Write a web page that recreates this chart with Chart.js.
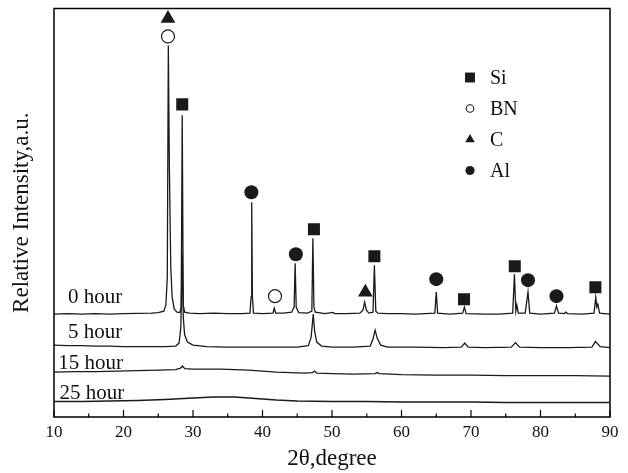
<!DOCTYPE html>
<html>
<head>
<meta charset="utf-8">
<script src="https://cdn.jsdelivr.net/npm/chart.js@4.4.1/dist/chart.umd.min.js"></script>
<style>
  html, body { margin: 0; padding: 0; background: #fff; }
</style>
</head>
<body>
<canvas id="xrd" width="628" height="473"></canvas>
<script>
// XRD patterns, [2theta, intensity + offset] (a.u.)
const hour0 = [
  [10, 103], [12, 103.5], [14, 103], [16, 103.5], [18, 103], [20, 103.5], [22, 103.8], [24, 104],
  [25, 104.5], [25.8, 106], [26.1, 112], [26.3, 140], [26.45, 372], [26.6, 250], [26.8, 150],
  [27.0, 120], [27.3, 108], [27.7, 105], [28.1, 104.5], [28.3, 110], [28.45, 302], [28.6, 112],
  [28.8, 105], [29.5, 104], [31, 103.5], [33, 104], [35, 103.5], [37, 103.5], [38.2, 104],
  [38.35, 120], [38.45, 215], [38.55, 120], [38.7, 104], [40, 103.5], [41.5, 104], [41.7, 109],
  [41.9, 104], [43, 104], [44.2, 105], [44.55, 110], [44.7, 154], [44.85, 110], [45.2, 104.5],
  [46.5, 104], [47.1, 106], [47.25, 179], [47.4, 110], [47.6, 105], [49, 103.5], [50.1, 104.8],
  [50.4, 103.5], [52, 103.5], [54, 104], [54.45, 107], [54.7, 115], [54.95, 107], [55.3, 104],
  [55.9, 105], [56.1, 152], [56.3, 106], [56.6, 104], [58, 103.5], [60, 103.5], [62, 103],
  [64.8, 104], [65.0, 125], [65.2, 104], [67, 103], [68.8, 104], [69.05, 110], [69.3, 103.5],
  [72, 103], [74, 103], [76.0, 104], [76.25, 143], [76.45, 106], [76.6, 112], [76.8, 104],
  [77.8, 104], [78.2, 125], [78.45, 104], [80, 103], [82.0, 104], [82.3, 111], [82.6, 104],
  [83.4, 103.5], [83.6, 105], [83.9, 103.5], [86, 103], [87.7, 104], [87.95, 120], [88.1, 110],
  [88.25, 113], [88.5, 104], [90, 103]
];
const hour5 = [
  [10, 72], [12, 71.5], [14, 71.5], [16, 71], [18, 71], [20, 70.5], [22, 70.5], [24, 70.5],
  [26, 70.5], [27.5, 71], [28.0, 74], [28.25, 90], [28.45, 164], [28.6, 100], [28.8, 82],
  [29.2, 75], [30, 72], [32, 70.5], [35, 70], [38, 70], [40, 70], [43, 70], [45, 70],
  [46.6, 71.5], [47.0, 80], [47.3, 103], [47.5, 86], [47.8, 75], [48.5, 71], [50, 70], [53, 70],
  [55.5, 71], [55.9, 78], [56.2, 87], [56.5, 79], [57, 72], [58, 70], [62, 70], [66, 69.5],
  [68.6, 70], [69.1, 74], [69.6, 70], [72, 69.5], [75.8, 70], [76.4, 74.5], [77, 70], [80, 69.5],
  [84, 69.5], [87.4, 70], [87.9, 75.5], [88.6, 70.5], [90, 69.5]
];
const hour15 = [
  [10, 45], [13, 45.5], [16, 45.5], [19, 46], [22, 46.5], [25, 47], [27.5, 47.5], [28.2, 49],
  [28.5, 51], [28.8, 48.5], [30, 48], [32, 48], [34, 48], [36, 47.5], [38, 47], [40, 46],
  [42, 45], [44, 44.5], [46, 44], [47.2, 44.5], [47.5, 46], [47.8, 44], [50, 43.5], [53, 43],
  [56.2, 43.5], [56.5, 44.5], [56.8, 43.5], [60, 42.5], [65, 42], [70, 42], [75, 41.5],
  [80, 41.5], [85, 41.5], [90, 41]
];
const hour25 = [
  [10, 15.5], [14, 15.5], [18, 16], [22, 16.5], [26, 17.5], [30, 19], [33, 20], [36, 20],
  [39, 18.5], [42, 17], [45, 16], [50, 15.5], [55, 15.5], [60, 15], [65, 15], [70, 15],
  [75, 14.5], [80, 14.5], [85, 14.5], [90, 14.5]
];

// phase markers above the peaks
const siMarks = [[28.45, 313], [47.4, 188], [56.1, 161], [69.0, 118], [76.3, 151], [87.9, 130]];
const bnMarks = [[26.4, 381], [41.8, 121]];
const cMarks = [[26.4, 399], [54.8, 125]];
const alMarks = [[38.4, 225], [44.8, 163], [65.0, 138], [78.2, 137], [82.3, 121]];

const hourNames = ['0 hour', '5 hour', '15 hour', '25 hour'];
const hourLabelX = [12.0, 12.0, 10.6, 10.8];
const hourLabelY = [120, 85, 54, 24];

const legendNames = ['Si', 'BN', 'C', 'Al'];

const FONT = "'Liberation Serif', 'Times New Roman', serif";
const INK = '#1a1a1a';

function pts(arr) {
  return arr.map(p => ({ x: p[0], y: p[1] }));
}

function trace(arr) {
  return {
    data: pts(arr),
    borderColor: INK,
    borderWidth: 1.3,
    pointRadius: 0,
    tension: 0,
    fill: false
  };
}

function marks(arr, style, radius, hollow) {
  return {
    data: pts(arr),
    showLine: false,
    pointStyle: style,
    pointRadius: radius,
    pointBorderWidth: hollow ? 1.2 : 0,
    pointBorderColor: INK,
    pointBackgroundColor: hollow ? '#fff' : INK
  };
}

// box + inward ticks
const frame = {
  id: 'frame',
  afterDatasetsDraw(chart) {
    const { ctx, chartArea: a } = chart;
    const x = chart.scales.x;
    ctx.save();
    ctx.strokeStyle = '#000';
    ctx.lineWidth = 1.5;
    ctx.strokeRect(a.left, a.top, a.right - a.left, a.bottom - a.top);
    ctx.lineWidth = 1.2;
    x.ticks.forEach(t => {
      const px = x.getPixelForValue(t.value);
      const len = t.value % 10 === 0 ? 7 : 3.5;
      ctx.beginPath();
      ctx.moveTo(px, a.bottom);
      ctx.lineTo(px, a.bottom - len);
      ctx.stroke();
    });
    ctx.restore();
  }
};

const hourLabels = {
  id: 'hourLabels',
  afterDatasetsDraw(chart) {
    const { ctx } = chart;
    const { x, y } = chart.scales;
    ctx.save();
    ctx.fillStyle = '#111';
    ctx.font = '21px ' + FONT;
    ctx.textAlign = 'left';
    ctx.textBaseline = 'middle';
    hourNames.forEach((name, i) => {
      ctx.fillText(name, x.getPixelForValue(hourLabelX[i]), y.getPixelForValue(hourLabelY[i]));
    });
    ctx.restore();
  }
};

const phaseLegend = {
  id: 'phaseLegend',
  afterDraw(chart) {
    const { ctx, chartArea: a } = chart;
    const styles = [
      { pointStyle: 'rect', radius: 7, hollow: false },
      { pointStyle: 'circle', radius: 3.8, hollow: true },
      { pointStyle: 'triangle', radius: 5.5, hollow: false },
      { pointStyle: 'circle', radius: 4.6, hollow: false }
    ];
    const mx = a.left + 416;
    ctx.save();
    ctx.font = '20px ' + FONT;
    ctx.textBaseline = 'middle';
    legendNames.forEach((name, i) => {
      const yy = a.top + 69 + i * 31;
      const s = styles[i];
      ctx.fillStyle = s.hollow ? '#fff' : INK;
      ctx.strokeStyle = INK;
      ctx.lineWidth = 1.1;
      Chart.helpers.drawPoint(ctx, {
        pointStyle: s.pointStyle, radius: s.radius, rotation: 0,
        borderWidth: s.hollow ? 1.1 : 0
      }, mx, yy);
      ctx.fillStyle = '#111';
      ctx.fillText(name, mx + 20, yy + 1);
    });
    ctx.restore();
  }
};

new Chart(document.getElementById('xrd'), {
  type: 'line',
  data: {
    datasets: [
      trace(hour0), trace(hour5), trace(hour15), trace(hour25),
      marks(siMarks, 'rect', 8.5, false),
      marks(bnMarks, 'circle', 6.5, true),
      marks(cMarks, 'triangle', 8.5, false),
      marks(alMarks, 'circle', 7, false)
    ]
  },
  options: {
    responsive: false,
    animation: false,
    devicePixelRatio: 1,
    layout: { padding: { left: 0, right: 18, top: 8, bottom: 0 } },
    plugins: {
      legend: { display: false },
      tooltip: { enabled: false }
    },
    scales: {
      x: {
        type: 'linear',
        min: 10,
        max: 90,
        afterFit: s => { s.height = 56; },
        grid: { display: false, drawTicks: false },
        border: { display: false },
        ticks: {
          stepSize: 5,
          autoSkip: false,
          maxRotation: 0,
          padding: 5,
          color: '#111',
          font: { family: FONT, size: 17 },
          callback: v => (v % 10 === 0 ? v : '')
        },
        title: {
          display: true,
          text: '2θ,degree',
          color: '#111',
          padding: { top: 0, bottom: 0 },
          font: { family: FONT, size: 23 }
        }
      },
      y: {
        min: 0,
        max: 409,
        afterFit: s => { s.width = 54; },
        grid: { display: false },
        border: { display: false },
        ticks: { display: false },
        title: {
          display: true,
          text: 'Relative Intensity,a.u.',
          color: '#111',
          padding: { top: 8, bottom: 0 },
          font: { family: FONT, size: 23 }
        }
      }
    }
  },
  plugins: [frame, hourLabels, phaseLegend]
});
</script>
</body>
</html>
